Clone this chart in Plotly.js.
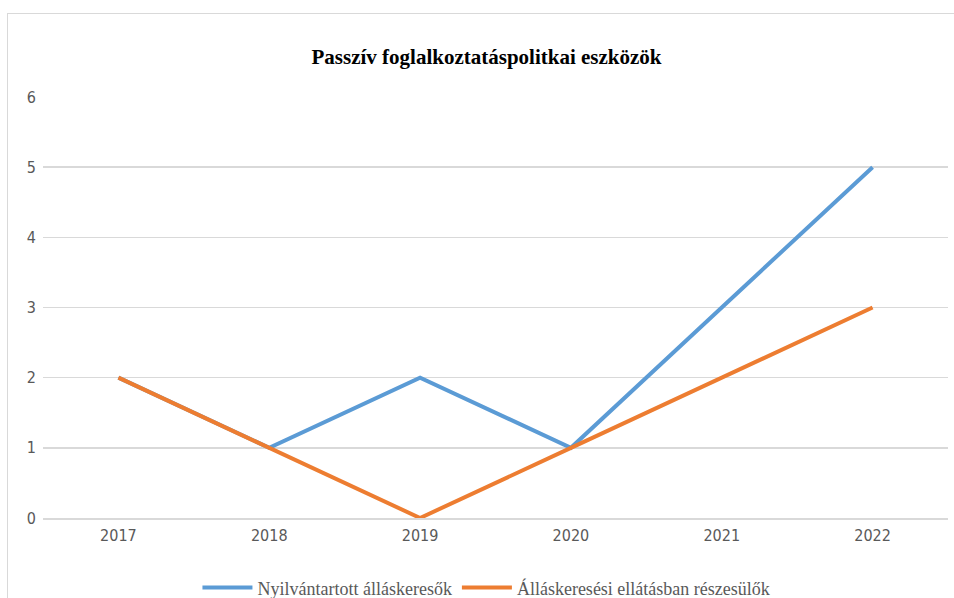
<!DOCTYPE html>
<html>
<head>
<meta charset="utf-8">
<script src="https://cdn.plot.ly/plotly-3.0.1.min.js"></script>
<style>
  html, body { margin: 0; padding: 0; background: #fff; overflow: hidden; }
  #wrap { position: relative; width: 954px; height: 598px; }
  #chart { position: absolute; left: 0; top: 0; width: 954px; height: 598px; }
  #frame { position: absolute; left: 7px; top: 13px; width: 1000px; height: 700px; border: 1px solid #d9d9d9; pointer-events: none; }
</style>
</head>
<body>
<div id="wrap">
  <div id="chart"></div>
  <div id="frame"></div>
</div>
<script>
const years = ['2017', '2018', '2019', '2020', '2021', '2022'];
const nyilvantartott = [2, 1, 2, 1, 3, 5];
const ellatas = [2, 1, 0, 1, 2, 3];
const seriesNames = ['Nyilvántartott álláskeresők', 'Álláskeresési ellátásban részesülők'];

const tickFont = { family: 'Liberation Sans Narrow, DejaVu Sans Condensed, Liberation Sans, sans-serif', size: 16, color: '#595959' };

Plotly.newPlot('chart', [
  { x: years, y: nyilvantartott, name: seriesNames[0], type: 'scatter', mode: 'lines', line: { color: '#5B9BD5', width: 4 } },
  { x: years, y: ellatas, name: seriesNames[1], type: 'scatter', mode: 'lines', line: { color: '#ED7D31', width: 4 } },
], {
  width: 954, height: 598,
  margin: { l: 42.5, r: 5.5, t: 97, b: 80, autoexpand: false },
  paper_bgcolor: 'rgba(0,0,0,0)', plot_bgcolor: '#fff',
  title: {
    text: '<b>Passzív foglalkoztatáspolitkai eszközök</b>',
    font: { family: 'Liberation Serif, Times New Roman, serif', size: 21, color: '#000' },
    x: 0.51, xanchor: 'center', y: 0.906, yref: 'container', yanchor: 'middle'
  },
  xaxis: {
    type: 'category', range: [-0.5, 5.5], showgrid: false, zeroline: false,
    showline: true, linecolor: '#d9d9d9', linewidth: 1.5, automargin: false,
    ticks: '', tickfont: tickFont, ticklabelstandoff: 2, fixedrange: true
  },
  yaxis: {
    range: [0, 6], dtick: 1, showgrid: true, gridcolor: '#d9d9d9', gridwidth: 1.5,
    zeroline: false, showline: false, ticks: '', tickfont: tickFont, automargin: false,
    ticklabelstandoff: 6, fixedrange: true
  },
  showlegend: true,
  legend: {
    orientation: 'h', x: 0.49, xanchor: 'center', y: -0.166, yanchor: 'middle',
    font: { family: 'Liberation Serif, Times New Roman, serif', size: 18, color: '#595959' },
    itemwidth: 50, traceorder: 'normal'
  }
}, { displayModeBar: false, staticPlot: true });
</script>
</body>
</html>
